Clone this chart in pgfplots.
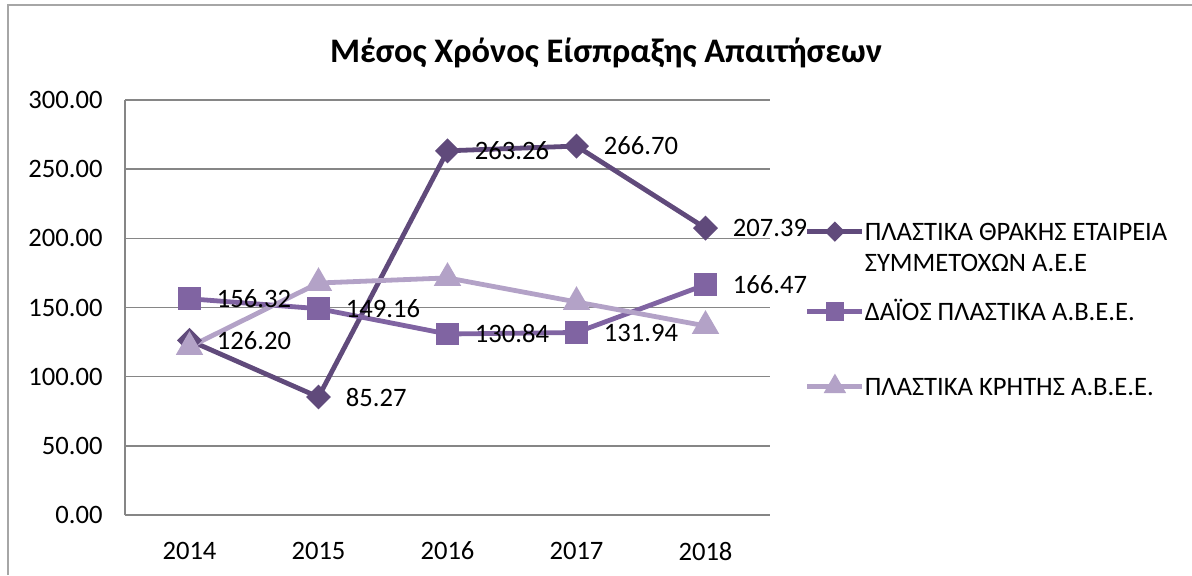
\documentclass[border=0pt]{standalone}
\usepackage{fontspec}
\setmainfont{Carlito}
\usepackage{pgfplots}
\pgfplotsset{compat=1.18}
\definecolor{sone}{RGB}{96,74,123}
\definecolor{stwo}{RGB}{128,100,162}
\definecolor{sthree}{RGB}{179,162,199}
\definecolor{gridgray}{RGB}{134,134,134}
\definecolor{framegray}{RGB}{166,166,166}
\tikzset{labelnode/.style={anchor=west, inner sep=0pt, xshift=13.5pt, black,
  font=\fontsize{13.3}{15.5}\selectfont}}
% legend key raised to a given height above the entry's baseline
\pgfplotsset{keyat/.style={legend image code/.code={\draw[##1, mark repeat=2, mark phase=2,
      every mark/.append style={scale=0.75}]
      plot coordinates {(0pt,#1) (13.75pt,#1) (27.5pt,#1)};}}}

\pgfplotstableread{
x y
0 126.20
1 85.27
2 263.26
3 266.70
4 207.39
}\thraki
\pgfplotstableread{
x y
0 156.32
1 149.16
2 130.84
3 131.94
4 166.47
}\daios
\pgfplotstableread{
x y
0 121.5
1 167.7
2 171.4
3 154.0
4 136.7
}\kriti

\begin{document}
\begin{tikzpicture}
\path[use as bounding box] (0,0) rectangle (596pt,287.5pt);
\draw[framegray, line width=0.75pt] (4pt,0) -- (4pt,285pt) -- (596pt,285pt);
\node[anchor=base, font=\bfseries\fontsize{17.2}{20}\selectfont] at (303pt,256.5pt)
  {Μέσος Χρόνος Είσπραξης Απαιτήσεων};
\begin{axis}[
    at={(62.5pt,30pt)}, anchor=south west,
    scale only axis, width=322.5pt, height=207.5pt,
    xmin=-0.5, xmax=4.5, ymin=0, ymax=300,
    xtick={0,1,2,3,4}, xticklabels={2014,2015,2016,2017,2018},
    ytick={0,50,...,300},
    axis x line=bottom, axis y line=left,
    axis line style={-, gridgray, line width=0.75pt},
    ymajorgrids, grid style={gridgray, line width=0.75pt},
    major tick length=0pt,
    clip=false,
    font=\fontsize{13.3}{15.5}\selectfont,
    /pgf/number format/assume math mode=true,
    yticklabel style={anchor=east, inner sep=0pt, xshift=-11pt,
      /pgf/number format/.cd, fixed, fixed zerofill, precision=2},
    xticklabel style={anchor=north, inner sep=0pt, yshift=-13.3pt},
    keyat=4.2pt,
    legend style={at={(axis description cs:1.0543,0.718)}, anchor=north west,
      draw=none, fill=none, inner sep=0pt, outer sep=0pt,
      column sep=0pt, row sep=0pt,
      nodes={inner sep=0pt, anchor=base west, align=left},
      font=\fontsize{13.3}{15.5}\selectfont},
]
% first entry has two lines: its key sits on the upper line
\addplot[sone, line width=2.4pt, mark=square*, mark size=3.2pt,
  mark options={rotate=45}, keyat=19.7pt] table {\thraki};
\addlegendentry{\rule{0pt}{11.5pt}ΠΛΑΣΤΙΚΑ ΘΡΑΚΗΣ ΕΤΑΙΡΕΙΑ\\ΣΥΜΜΕΤΟΧΩΝ Α.Ε.Ε}
\addplot[stwo, line width=2.4pt, mark=square*, mark size=4.5pt] table {\daios};
\addlegendentry{\rule[-4pt]{0pt}{27pt}ΔΑΪΟΣ ΠΛΑΣΤΙΚΑ Α.Β.Ε.Ε.}
\addplot[sthree, line width=2.4pt, mark=triangle*, mark size=5.5pt] table {\kriti};
\addlegendentry{\rule[-4pt]{0pt}{40pt}ΠΛΑΣΤΙΚΑ ΚΡΗΤΗΣ Α.Β.Ε.Ε.}
% data labels on top
\addplot[draw=none, forget plot, nodes near coords,
  every node near coord/.style={labelnode},
  nodes near coords={\pgfmathprintnumber[fixed,fixed zerofill,precision=2]{\pgfplotspointmeta}},
  point meta=y] table {\thraki};
\addplot[draw=none, forget plot, nodes near coords,
  every node near coord/.style={labelnode},
  nodes near coords={\pgfmathprintnumber[fixed,fixed zerofill,precision=2]{\pgfplotspointmeta}},
  point meta=y] table {\daios};
\end{axis}
\end{tikzpicture}
\end{document}
